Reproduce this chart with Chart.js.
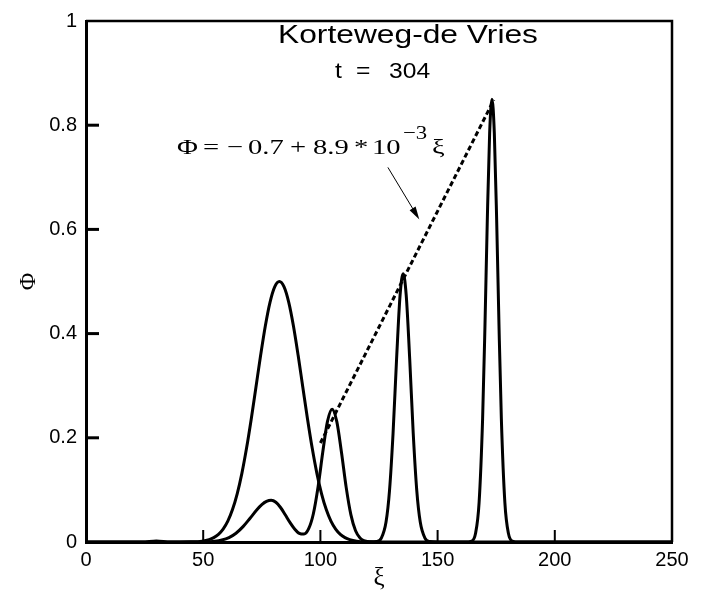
<!DOCTYPE html>
<html>
<head>
<meta charset="utf-8">
<script src="https://cdn.jsdelivr.net/npm/chart.js@4"></script>
<style>
  html, body { margin: 0; padding: 0; background: #fff; }
  #wrap { width: 708px; height: 593px; }
</style>
</head>
<body>
<div id="wrap"><canvas id="myChart" width="708" height="593"></canvas></div>
<script>
// broad initial pulse
var xiWide = [0, 40, 44.5, 49.5, 52.5, 54.5, 56.5, 58.5, 60.5, 62.5, 64.5, 66.5, 68.5, 70.5, 72.5,
  74.5, 76.5, 78.5, 80.5, 82.5, 84.5, 86.5, 88.5, 90.5, 92.5, 94.5, 96.5, 98.5, 100.5, 102.5,
  104.5, 106.5, 108.5, 110.5, 112.5, 115.5, 120.5, 126, 250];
var phiWide = [0, 0, 0.0003, 0.0017, 0.0046, 0.0084, 0.0148, 0.0249, 0.0402, 0.0623, 0.0925, 0.1318, 0.1802, 0.2362, 0.2971,
  0.3583, 0.4146, 0.4600, 0.4897, 0.5000, 0.4897, 0.4600, 0.4146, 0.3583, 0.2971, 0.2362, 0.1802, 0.1318, 0.0925, 0.0623,
  0.0402, 0.0249, 0.0148, 0.0084, 0.0046, 0.0017, 0.0003, 0, 0];

// soliton train at t = 304
var xiTrain = [0, 24, 30, 36, 45, 50, 55, 58, 61, 64, 67, 70, 73, 75, 77, 79, 81, 83, 85, 87,
  89, 91, 93, 95, 97, 99, 101, 103, 105, 107, 109, 111, 113, 115, 117, 119, 121, 124, 126, 128,
  129.5, 131, 132.5, 134, 135.3, 136.6, 138.1, 139.6, 141.1, 142.6, 144.6, 146.6, 150, 162, 164.2,
  166.2, 167.7, 169.2, 170.2, 171.2, 172.2, 173.2, 174.2, 175.2, 176.2, 177.2, 178.7, 180.2, 182.2, 184.4, 250];
var phiTrain = [0, 0, 0.002, 0, 0, 0.0002, 0.0015, 0.0038, 0.0085, 0.0169, 0.0295, 0.0457, 0.0624, 0.0716, 0.0778, 0.0800, 0.0763, 0.0662, 0.0522, 0.0376,
  0.0250, 0.0166, 0.0152, 0.0255, 0.0542, 0.1055, 0.1721, 0.2310, 0.2550, 0.2310, 0.1718, 0.1048, 0.0525, 0.0216, 0.0073, 0.0020, 0.0005, 0.0010, 0.0076, 0.0382,
  0.0997, 0.2088, 0.3512, 0.4742, 0.5150, 0.4742, 0.3512, 0.2088, 0.0997, 0.0382, 0.0076, 0.0010, 0, 0, 0.0013,
  0.0169, 0.0756, 0.2363, 0.4138, 0.6172, 0.7847, 0.8500, 0.7847, 0.6172, 0.4138, 0.2363, 0.0756, 0.0169, 0.0013, 0, 0];

// amplitude fit  Phi = -0.7 + 8.9e-3 xi
var xiFit = [100, 174];
var phiFit = [0.19, 0.8486];

var xTicks = [0, 50, 100, 150, 200, 250];
var yTicks = [0, 0.2, 0.4, 0.6, 0.8, 1];

function toPoints(xs, ys) {
  return xs.map(function (x, i) { return { x: x, y: ys[i] }; });
}

// draws text left-aligned on a baseline, stretched horizontally by k
function wideText(c, str, x, y, font, k) {
  c.save();
  c.font = font;
  c.textAlign = 'left';
  c.textBaseline = 'alphabetic';
  c.translate(x, y);
  c.scale(k, 1);
  c.fillText(str, 0, 0);
  c.restore();
}

var decor = {
  id: 'decor',
  afterDraw: function (chart) {
    var c = chart.ctx, a = chart.chartArea;
    var sx = chart.scales.x, sy = chart.scales.y;
    c.save();
    c.strokeStyle = '#000';
    c.fillStyle = '#000';

    // top and right frame
    c.lineWidth = 2.5;
    c.beginPath();
    c.moveTo(a.left, a.top);
    c.lineTo(a.right, a.top);
    c.lineTo(a.right, a.bottom);
    c.stroke();

    // tick marks pointing into the plot
    c.lineWidth = 2;
    xTicks.forEach(function (v) {
      if (v == sx.min || v == sx.max) return;
      var px = sx.getPixelForValue(v);
      c.beginPath(); c.moveTo(px, a.bottom); c.lineTo(px, a.bottom - 12); c.stroke();
    });
    c.lineWidth = 3;
    yTicks.forEach(function (v) {
      if (v == sy.min || v == sy.max) return;
      var py = sy.getPixelForValue(v);
      c.beginPath(); c.moveTo(a.left, py); c.lineTo(a.left + 13, py); c.stroke();
    });

    // titles
    var sans = "'Liberation Sans', Arial, sans-serif";
    wideText(c, 'Korteweg-de Vries', 278, 43, '25px ' + sans, 1.27);
    wideText(c, 't', 335, 78, '22px ' + sans, 1.12);
    wideText(c, '=', 356, 78, '22px ' + sans, 1.12);
    wideText(c, '304', 389, 78, '22px ' + sans, 1.12);

    // fit formula
    var serif = "'Liberation Serif', 'Times New Roman', serif";
    var f = '22px ' + serif;
    var parts = [['\u03A6', 177], ['=', 203], ['\u2212', 227], ['0.7', 248], ['+', 290],
                 ['8.9', 313], ['*', 354], ['10', 372], ['\u03BE', 432]];
    parts.forEach(function (p) { wideText(c, p[0], p[1], 154, f, 1.3); });
    wideText(c, '\u22123', 403, 139, '19px ' + serif, 1.2);

    // arrow pointing at the fit line
    var x0 = sx.getPixelForValue(128.8), y0 = sy.getPixelForValue(0.719);
    var x1 = sx.getPixelForValue(142.2), y1 = sy.getPixelForValue(0.619);
    var ang = Math.atan2(y1 - y0, x1 - x0);
    c.lineWidth = 1;
    c.beginPath();
    c.moveTo(x0, y0);
    c.lineTo(x1 - 10 * Math.cos(ang), y1 - 10 * Math.sin(ang));
    c.stroke();
    c.beginPath();
    c.moveTo(x1, y1);
    c.lineTo(x1 - 13 * Math.cos(ang) + 3.5 * Math.sin(ang), y1 - 13 * Math.sin(ang) - 3.5 * Math.cos(ang));
    c.lineTo(x1 - 13 * Math.cos(ang) - 3.5 * Math.sin(ang), y1 - 13 * Math.sin(ang) + 3.5 * Math.cos(ang));
    c.closePath();
    c.fill();
    c.restore();
  }
};

var ctx = document.getElementById('myChart');
var myChart = new Chart(ctx, {
  type: 'line',
  data: {
    datasets: [{
      data: toPoints(xiWide, phiWide),
      borderColor: '#000',
      borderWidth: 3,
      pointRadius: 0,
      cubicInterpolationMode: 'monotone',
      fill: false
    }, {
      data: toPoints(xiTrain, phiTrain),
      borderColor: '#000',
      borderWidth: 3,
      pointRadius: 0,
      cubicInterpolationMode: 'monotone',
      fill: false
    }, {
      data: toPoints(xiFit, phiFit),
      borderColor: '#000',
      borderWidth: 3,
      borderDash: [5, 3],
      pointRadius: 0,
      fill: false
    }]
  },
  options: {
    responsive: false,
    animation: false,
    devicePixelRatio: 1,
    layout: { padding: { left: 0, right: 36, top: 15, bottom: 0 } },
    plugins: { legend: { display: false }, tooltip: { enabled: false } },
    scales: {
      x: {
        type: 'linear',
        min: 0,
        max: 250,
        afterBuildTicks: function (s) { s.ticks = xTicks.map(function (v) { return { value: v }; }); },
        afterFit: function (s) { s.height = 51; },
        grid: { display: false, drawTicks: false },
        border: { display: true, width: 3, color: '#000' },
        ticks: {
          padding: 6,
          color: '#000',
          maxRotation: 0,
          font: { family: "'Liberation Sans', Arial, sans-serif", size: 20 },
          callback: function (v) { return String(v); }
        },
        title: {
          display: true,
          text: '\u03BE',
          color: '#000',
          padding: { top: 0, bottom: 0 },
          font: { family: "'Liberation Serif', 'Times New Roman', serif", size: 25 }
        }
      },
      y: {
        type: 'linear',
        min: 0,
        max: 1,
        afterBuildTicks: function (s) { s.ticks = yTicks.map(function (v) { return { value: v }; }); },
        afterFit: function (s) { s.width = 86; },
        grid: { display: false, drawTicks: false },
        border: { display: true, width: 3, color: '#000' },
        ticks: {
          padding: 9,
          color: '#000',
          font: { family: "'Liberation Sans', Arial, sans-serif", size: 20 },
          callback: function (v) { return String(v); }
        },
        title: {
          display: true,
          text: '\u03A6',
          color: '#000',
          padding: { top: 14, bottom: 0 },
          font: { family: "'Liberation Serif', 'Times New Roman', serif", size: 24 }
        }
      }
    }
  },
  plugins: [decor]
});
</script>
</body>
</html>
